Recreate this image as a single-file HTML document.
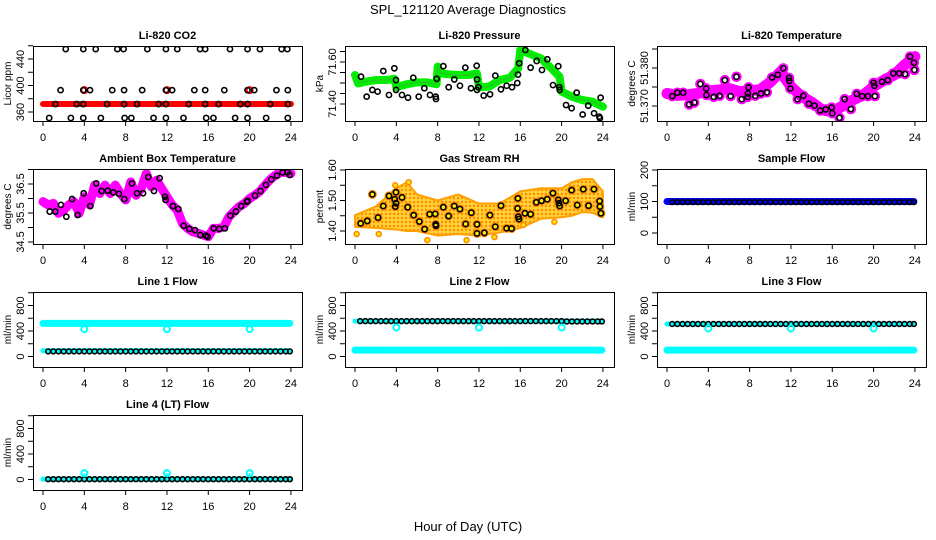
<!DOCTYPE html>
<html><head><meta charset="utf-8">
<style>
html,body{margin:0;padding:0;background:#fff;}
svg{display:block;font-family:"Liberation Sans",Arial,sans-serif;}
</style></head>
<body>
<svg id="chart" width="936" height="540" viewBox="0 0 936 540" xmlns="http://www.w3.org/2000/svg">
<defs>
<pattern id="rhdots" width="4" height="4" patternUnits="userSpaceOnUse">
<rect width="4" height="4" fill="#ffd23a"/>
<circle cx="2" cy="2" r="1.2" fill="#ff8c00"/>
</pattern>
</defs>
<text x="468" y="14" font-size="13" text-anchor="middle">SPL_121120  Average Diagnostics</text>
<text x="468" y="531" font-size="13" text-anchor="middle">Hour of Day (UTC)</text>
</svg>
<script>
// ---------- data ----------
const xTicks = [0,4,8,12,16,20,24];
const halfHours = [0.5,1,1.5,2,2.5,3,3.5,4,4.5,5,5.5,6,6.5,7,7.5,8,8.5,9,9.5,10,10.5,11,11.5,12,12.5,13,13.5,14,14.5,15,15.5,16,16.5,17,17.5,18,18.5,19,19.5,20,20.5,21,21.5,22,22.5,23,23.5,23.9];
const spikeHours = [4,12,20];

// CO2
const co2Hours = [2.2,3.9,5.1,7.2,7.8,10.1,11.9,13.0,15.2,15.7,18.1,19.8,21.0,23.1,23.65,
 1.7,3.9,4.55,6.7,7.85,9.6,11.9,12.5,14.65,15.7,17.55,19.8,20.45,22.6,23.7,
 1.2,3.25,3.9,6.2,7.85,9.1,11.2,11.9,14.1,15.7,17.0,19.1,19.8,22.0,23.7,
 0.6,2.7,3.9,5.6,7.9,8.55,10.7,11.9,13.6,15.8,16.5,18.6,19.8,21.6,23.7];
const co2Values = [455,455,455,455,455,455,455,455,455,455,455,455,455,455,455,
 393,393,393,393,393,393,393,393,393,393,393,393,393,393,393,
 372,372,372,372,372,372,372,372,372,372,372,372,372,372,372,
 351,351,351,351,351,351,351,351,351,351,351,351,351,351,351];
const co2BandHours = [0,24];
const co2BandValues = [372,372];
const co2SpikeValues = [393,393,393];

// Pressure
const presHours = [0.58,1.13,1.68,2.19,2.74,3.29,3.81,3.97,3.97,4.55,5.13,5.64,6.17,6.71,7.26,7.81,7.84,7.91,8.55,9.07,9.61,10.16,10.68,11.23,11.78,11.81,11.81,11.94,12.46,13.07,13.58,14.13,14.68,15.2,15.71,15.78,15.9,16.49,17.0,17.59,18.1,18.62,19.17,19.68,19.78,19.81,20.43,20.97,21.46,22.04,22.58,23.14,23.65,23.71,23.78];
const presValues = [71.53,71.435,71.467,71.459,71.557,71.443,71.57,71.514,71.467,71.443,71.43,71.525,71.435,71.475,71.443,71.435,71.424,71.52,71.58,71.48,71.517,71.487,71.573,71.475,71.582,71.517,71.467,71.48,71.44,71.446,71.535,71.47,71.487,71.48,71.5,71.54,71.594,71.657,71.573,71.605,71.562,71.613,71.49,71.58,71.48,71.467,71.395,71.38,71.454,71.35,71.392,71.356,71.34,71.332,71.43];
const presBandHours = [0,0.3,1,2,3,3.8,4,5,6,7,7.9,8,8.3,9,10,11,11.8,12,13,14,15,15.8,16,17,18,19,19.8,20,21,22,23,24];
const presBandValues = [71.538,71.498,71.506,71.514,71.514,71.52,71.48,71.494,71.503,71.503,71.494,71.578,71.546,71.542,71.538,71.538,71.546,71.48,71.483,71.514,71.525,71.57,71.657,71.637,71.617,71.57,71.53,71.459,71.435,71.419,71.411,71.387];

// Li-820 temperature
const tempHours = [0.52,1.0,1.56,2.15,2.64,3.23,3.79,3.82,4.53,5.09,5.6,6.16,6.72,7.24,7.8,7.83,7.9,8.54,9.1,9.66,10.17,10.73,11.25,11.81,11.84,11.94,12.65,13.2,13.73,14.28,14.83,15.36,15.94,16.0,16.7,17.2,17.8,18.37,18.9,19.45,20.0,20.07,20.13,20.81,21.37,21.9,22.48,23.04,23.53,23.9,23.95];
const tempValues = [51.3726,51.3735,51.3735,51.3704,51.3709,51.3758,51.3746,51.3729,51.3724,51.3727,51.3768,51.3726,51.3777,51.3718,51.3724,51.3733,51.3749,51.3727,51.3733,51.3736,51.3775,51.3782,51.3799,51.3774,51.3766,51.3746,51.3718,51.3727,51.3706,51.3701,51.3688,51.3691,51.3696,51.3681,51.3669,51.3718,51.3692,51.3732,51.3726,51.3726,51.3761,51.3753,51.3726,51.3764,51.3768,51.3786,51.3786,51.3784,51.3830,51.3814,51.3795];
const tempBandHours = [0,1,2,3,4,5,6,7,8,9,10,11,12,13,14,15,16,17,18,19,20,21,22,23,24];
const tempBandValues = [51.3733,51.3728,51.3730,51.3733,51.3740,51.3742,51.3746,51.3738,51.3740,51.3743,51.3763,51.3790,51.3751,51.3726,51.3710,51.3690,51.3685,51.3700,51.3716,51.3729,51.3751,51.3768,51.3782,51.3808,51.3830];

// Ambient box temperature
const ambBandHours = [0,0.5,1,1.5,2,2.5,3,3.5,4,4.5,5,5.5,6,6.5,7,7.5,8,8.5,9,9.5,10,10.5,11,11.5,12,12.5,13,13.5,14,14.5,15,15.5,16,16.5,17,17.5,18,18.5,19,19.5,20,20.5,21,21.5,22,22.5,23,23.5,24];
const ambBandValues = [35.89,35.78,35.83,35.49,35.6,35.78,35.89,35.49,36.06,35.78,36.46,36.17,36.46,36.17,36.46,36.17,35.95,36.57,36.11,36.34,36.86,36.4,36.63,36.34,36.06,35.78,35.6,35.14,34.97,34.85,34.8,34.74,34.68,34.97,34.97,35.02,35.37,35.55,35.72,35.83,36.0,36.11,36.25,36.46,36.66,36.8,36.9,36.9,36.86];
const ambHours = [0.65,1.19,1.74,2.26,2.81,3.35,3.94,4.58,5.16,5.68,6.26,6.81,7.35,7.87,8.61,9.1,9.68,10.19,10.74,11.29,11.81,11.87,12.58,13.1,13.61,14.16,14.71,15.23,15.77,15.94,16.52,17.06,17.61,18.13,18.68,19.19,19.74,19.81,20.52,21.06,21.58,22.1,22.65,23.19,23.68,23.87];
const ambValues = [35.55,35.55,35.78,35.37,35.98,35.43,36.18,35.74,36.52,36.26,36.27,36.21,36.16,35.98,36.52,36.18,36.18,36.74,36.26,36.7,36.06,35.95,35.74,35.64,35.06,34.95,34.91,34.74,34.72,34.68,34.97,34.95,34.97,35.41,35.55,35.74,35.89,35.92,36.1,36.26,36.47,36.66,36.79,36.9,36.9,36.81];

// Gas stream RH
const rhHours = [0.55,1.19,1.68,2.23,2.74,3.29,3.84,3.9,3.97,3.97,4.55,5.1,5.68,6.23,6.74,7.23,7.77,7.81,7.84,8.55,9.06,9.61,10.16,10.71,11.26,11.81,11.81,12.52,13.06,13.58,14.13,14.68,15.16,15.74,15.77,15.81,15.87,16.45,17.0,17.55,18.06,18.61,19.16,19.68,19.74,19.81,20.39,20.97,21.52,22.1,22.61,23.13,23.68,23.71,23.81];
const rhValues = [1.425,1.433,1.52,1.444,1.482,1.515,1.504,1.48,1.527,1.491,1.51,1.478,1.452,1.431,1.406,1.455,1.456,1.422,1.417,1.478,1.449,1.482,1.472,1.423,1.46,1.422,1.392,1.394,1.452,1.414,1.483,1.409,1.408,1.474,1.507,1.447,1.439,1.458,1.455,1.494,1.499,1.504,1.524,1.502,1.491,1.482,1.499,1.534,1.485,1.537,1.483,1.537,1.498,1.48,1.458];
const rhEnvHours = [0,2,4,5,6,8,10,12,14,16,18,20,21,22,23,24];
const rhUpper = [1.452,1.48,1.54,1.56,1.52,1.50,1.52,1.49,1.49,1.53,1.54,1.54,1.56,1.57,1.57,1.53];
const rhLower = [1.414,1.41,1.405,1.40,1.40,1.385,1.39,1.385,1.395,1.41,1.44,1.445,1.45,1.462,1.46,1.445];
const rhOutHours = [0.16,2.3,7.0,10.8,22.9,5.2,3.9,19.3,13.5,16.3];
const rhOutValues = [1.39,1.39,1.37,1.37,1.61,1.56,1.55,1.43,1.38,1.42];

// Flows
const flowBandHours = [0,23.9];
const sampleBandValues = [100,100];
const sampleValues = [98,98,98,98,98,98,98,98,98,98,98,98,98,98,98,98,98,98,98,98,98,98,98,98,98,98,98,98,98,98,98,98,98,98,98,98,98,98,98,98,98,98,98,98,98,98,98,98];
const line1HighBand = [520,520];
const line1LowBand = [90,90];
const line1Values = [80,80,80,80,80,80,80,80,80,80,80,80,80,80,80,80,80,80,80,80,80,80,80,80,80,80,80,80,80,80,80,80,80,80,80,80,80,80,80,80,80,80,80,80,80,80,80,80];
const line1Spikes = [430,430,430];
const line2LowBand = [100,100];
const line2HighBand = [555,555];
const line2Values = [555,555,555,555,555,555,555,555,555,555,555,555,555,555,555,555,555,555,555,555,555,555,555,555,555,555,555,555,555,555,555,555,555,555,555,555,555,555,555,555,550,550,550,550,550,550,550,550];
const line2Spikes = [455,455,455];
const line3LowBand = [100,100];
const line3HighBand = [510,510];
const line3Values = [510,510,510,510,510,510,510,510,510,510,510,510,510,510,510,510,510,510,510,510,510,510,510,510,510,510,510,510,510,510,510,510,510,510,510,510,510,510,510,510,510,510,510,510,510,510,510,510];
const line3Spikes = [440,440,440];
const line4Band = [5,5];
const line4Values = [5,5,5,5,5,5,5,5,5,5,5,5,5,5,5,5,5,5,5,5,5,5,5,5,5,5,5,5,5,5,5,5,5,5,5,5,5,5,5,5,5,5,5,5,5,5,5,5];
const line4Spikes = [100,100,100];

// ---------- drawing ----------
const NS = "http://www.w3.org/2000/svg";
const svg = document.getElementById('chart');
function mk(tag, parent){ const e = document.createElementNS(NS, tag); parent.appendChild(e); return e; }
function at(e, o){ for (const k in o) e.setAttribute(k, o[k]); return e; }

function panel(col, row, title, ylab, v1, p1, v2, p2, yticks, ylabels){
  const g = mk('g', svg);
  
  
  const bx = 33 + 312*col, by = 46 + 123*row, bw = 269, bh = 75;
  const x = h => 43 + 312*col + h*10.33;
  const y = v => by + p1 + (v - v1) * (p2 - p1) / (v2 - v1);
  const t = mk('text', g);
  at(t, {x: bx + bw/2, y: by - 7, 'font-size': 11, 'font-weight': 'bold', 'text-anchor': 'middle'});
  t.textContent = title;
  
  
  const yl = mk('text', g);
  at(yl, {x: bx - 25, y: by + bh/2, 'font-size': 10, 'text-anchor': 'middle', transform: `rotate(-90 ${bx-25} ${by+bh/2})`, dy: 3});
  yl.textContent = ylab;
  
  
  xTicks.forEach(h => {
    const l = mk('line', g);
    at(l, {x1: x(h), x2: x(h), y1: by+bh, y2: by+bh+5, stroke: '#000'});
    
    
    const tx = mk('text', g);
    at(tx, {x: x(h), y: by+bh+20, 'font-size': 11, 'text-anchor': 'middle'});
    tx.textContent = h;
    
    
  });
  const al = mk('line', g);
  at(al, {x1: x(0), x2: x(24), y1: by+bh+0.5, y2: by+bh+0.5, stroke: '#000'});
  
  
  yticks.forEach(v => {
    const l = mk('line', g);
    at(l, {x1: bx-5, x2: bx, y1: y(v), y2: y(v), stroke: '#000'});
    
    
  });
  ylabels.forEach(v => {
    const tx = mk('text', g);
    at(tx, {x: bx-9, y: y(v), 'font-size': 11, 'text-anchor': 'middle', transform: `rotate(-90 ${bx-9} ${y(v)})`});
    tx.textContent = v;
    
    
  });
  const plot = mk('g', g);
  const cp = mk('clipPath', svg);
  const cid = 'clip' + col + row;
  cp.setAttribute('id', cid);
  at(mk('rect', cp), {x: bx, y: by, width: bw, height: bh});
  plot.setAttribute('clip-path', `url(#${cid})`);
  
  
  const box = mk('rect', g);
  at(box, {x: bx+0.5, y: by+0.5, width: bw, height: bh, fill: 'none', stroke: '#000'});
  
  
  return {x, y, plot};
}

function band(P, hours, vals, color, w, name){
  const pl = mk('polyline', P.plot);
  at(pl, {points: hours.map((h,i) => P.x(h)+','+P.y(vals[i])).join(' '), fill: 'none', stroke: color, 'stroke-width': w, 'stroke-linejoin': 'round', 'stroke-linecap': 'round'});
  
  
}
function pts(P, hours, vals, color, r, sw, name, fill){
  hours.forEach((h,i) => {
    const c = mk('circle', P.plot);
    at(c, {cx: P.x(h), cy: P.y(vals[i]), r: r, fill: fill || 'none', stroke: color, 'stroke-width': sw});
    
    
  });
}

// CO2
const p1 = panel(0,0,'Li-820 CO2','Licor ppm',440,13,360,66,[360,380,400,420,440,460],[360,400,440]);
band(p1, co2BandHours, co2BandValues, '#ff0000', 6, 'co2-band');
pts(p1, spikeHours, co2SpikeValues, '#ff0000', 3, 2, 'co2-red-point');
pts(p1, co2Hours, co2Values, '#000', 2.6, 1.6, 'co2-point');

// Pressure
const p2 = panel(1,0,'Li-820 Pressure','kPa',71.60,16,71.40,58,[71.40,71.45,71.50,71.55,71.60,71.65],['71.40','71.60']);
band(p2, presBandHours, presBandValues, '#00ee00', 8, 'pressure-band');
band(p2, presBandHours, presBandValues, '#33bb33', 1, 'pressure-band-core');
pts(p2, presHours, presValues, '#000', 2.6, 1.6, 'pressure-point');

// Li-820 temperature
const p3 = panel(2,0,'Li-820 Temperature','degrees C',51.380,22,51.370,60,[51.370,51.375,51.380,51.385],['51.370','51.380']);
band(p3, tempBandHours, tempBandValues, '#ff00ff', 11, 'temperature-band');
pts(p3, tempHours, tempValues, '#ff00ff', 4, 2.5, 'temperature-magenta-point');
pts(p3, tempHours, tempValues, '#000', 2.6, 1.6, 'temperature-point');

// Ambient
const p4 = panel(0,1,'Ambient Box Temperature','degrees C',36.5,15,34.5,73,[34.5,35.0,35.5,36.0,36.5,37.0],['34.5','35.5','36.5']);
band(p4, ambBandHours, ambBandValues, '#ff00ff', 9, 'ambient-band');
pts(p4, ambHours, ambValues, '#000', 2.6, 1.6, 'ambient-point');

// RH
const p5 = panel(1,1,'Gas Stream RH','percent',1.60,1,1.40,62,[1.40,1.45,1.50,1.55,1.60],['1.40','1.50','1.60']);
(function(){
  const up = rhEnvHours.map((h,i) => p5.x(h)+','+p5.y(rhUpper[i]));
  const lo = rhEnvHours.map((h,i) => p5.x(h)+','+p5.y(rhLower[i])).reverse();
  const pg = mk('polygon', p5.plot);
  at(pg, {points: up.concat(lo).join(' '), fill: 'url(#rhdots)', stroke: '#ffa000', 'stroke-width': 2, 'stroke-linejoin': 'round'});
  
  
})();
pts(p5, rhOutHours, rhOutValues, '#ff8800', 2.5, 1.5, 'rh-orange-point', '#ffee00');
pts(p5, rhHours, rhValues, '#ff8800', 3.5, 2, 'rh-orange-point', '#ffee00');
pts(p5, rhHours, rhValues, '#000', 2.6, 1.6, 'rh-point');

// Sample flow
const p6 = panel(2,1,'Sample Flow','ml/min',200,1,0,64,[0,50,100,150,200],[0,100,200]);
band(p6, flowBandHours, sampleBandValues, '#0000ff', 7, 'sample-flow-band');
pts(p6, halfHours, sampleValues, '#000', 2.4, 1.5, 'sample-flow-point');

// Line flows
const flowTicks = [0,200,400,600,800,1000], flowLabels = [0,400,800];
const p7 = panel(0,2,'Line 1 Flow','ml/min',800,13.5,0,64.5,flowTicks,flowLabels);
band(p7, flowBandHours, line1HighBand, '#00ffff', 7, 'line1-high-band');
band(p7, flowBandHours, line1LowBand, '#00ffff', 5, 'line1-low-band');
pts(p7, halfHours, line1Values, '#000', 2.4, 1.6, 'line1-point');
pts(p7, spikeHours, line1Spikes, '#00ffff', 3, 2, 'line1-spike');

const p8 = panel(1,2,'Line 2 Flow','ml/min',800,13.5,0,64.5,flowTicks,flowLabels);
band(p8, flowBandHours, line2LowBand, '#00ffff', 7, 'line2-low-band');
band(p8, flowBandHours, line2HighBand, '#00ffff', 5, 'line2-high-band');
pts(p8, halfHours, line2Values, '#000', 2.4, 1.6, 'line2-point');
pts(p8, spikeHours, line2Spikes, '#00ffff', 3, 2, 'line2-spike');

const p9 = panel(2,2,'Line 3 Flow','ml/min',800,13.5,0,64.5,flowTicks,flowLabels);
band(p9, flowBandHours, line3LowBand, '#00ffff', 7, 'line3-low-band');
band(p9, flowBandHours, line3HighBand, '#00ffff', 5, 'line3-high-band');
pts(p9, halfHours, line3Values, '#000', 2.4, 1.6, 'line3-point');
pts(p9, spikeHours, line3Spikes, '#00ffff', 3, 2, 'line3-spike');

const p10 = panel(0,3,'Line 4 (LT) Flow','ml/min',800,13.5,0,64.5,flowTicks,flowLabels);
band(p10, flowBandHours, line4Band, '#00ffff', 5, 'line4-band');
spikeHours.forEach((h,i) => {
  const l = mk('line', p10.plot);
  at(l, {x1: p10.x(h), x2: p10.x(h), y1: p10.y(line4Band[0]), y2: p10.y(line4Spikes[i]), stroke: '#00ffff', 'stroke-width': 1.5});
  
  
});
pts(p10, halfHours, line4Values, '#000', 2.4, 1.6, 'line4-point');
pts(p10, spikeHours, line4Spikes, '#00ffff', 3, 2, 'line4-spike');
</script>
</body></html>
